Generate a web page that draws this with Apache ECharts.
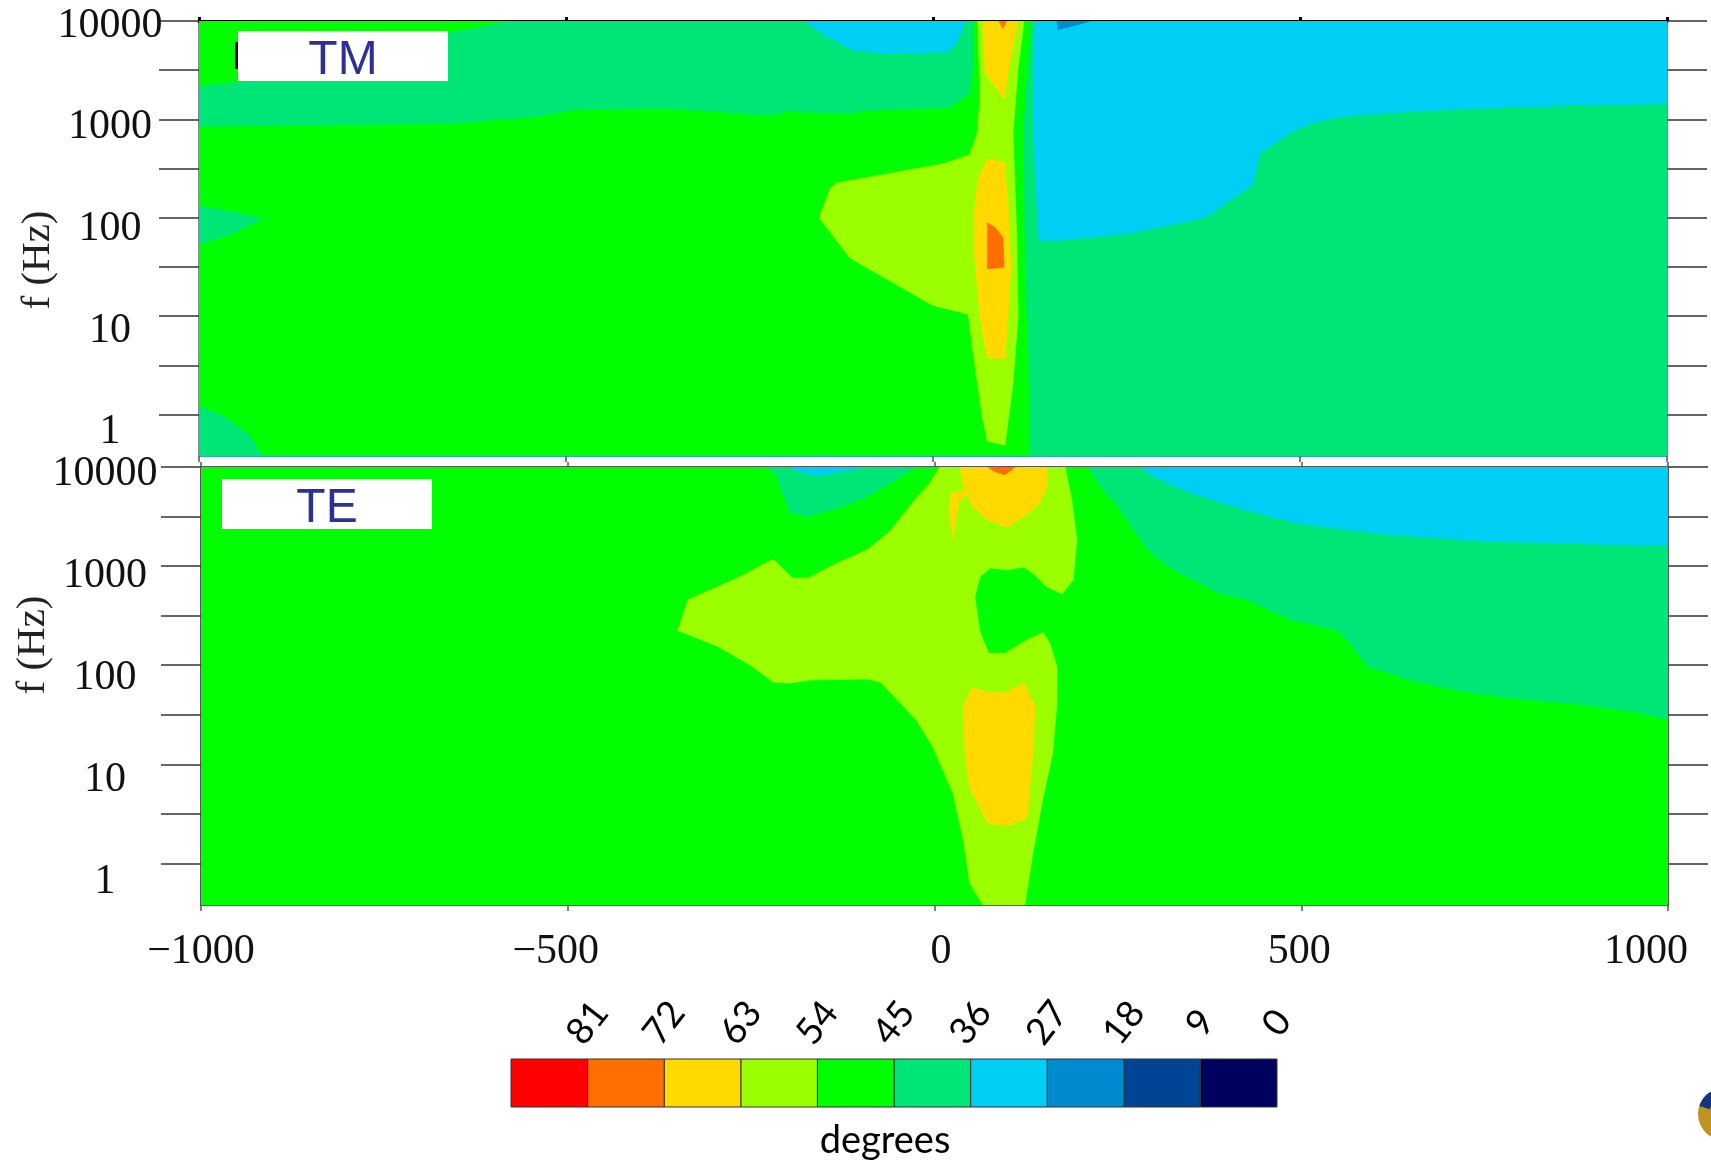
<!DOCTYPE html>
<html>
<head>
<meta charset="utf-8">
<script src="https://cdn.jsdelivr.net/npm/echarts@6/dist/echarts.min.js"></script>
<style>
  html, body { margin: 0; padding: 0; background: #fff; }
  #chart { width: 1711px; height: 1162px; }
</style>
</head>
<body>
<div id="chart"></div>
<script>
// Phase contour bands (degrees): band i covers [9*i, 9*i + 9)
const bandColors = ['#00005e', '#004496', '#008bd0', '#00cef5', '#00e676',
                    '#00ff00', '#9cff00', '#ffd900', '#ff6e00', '#ff0000'];
const levelLabels = [81, 72, 63, 54, 45, 36, 27, 18, 9, 0];

// Axis ticks: x = distance (m), y = log10 of frequency (Hz)
const xTickValues = [-1000, -500, 0, 500, 1000];
const xTickLabels = ['\u22121000', '\u2212500', '0', '500', '1000'];
const freqLabels = ['1', '10', '100', '1000', '10000'];
const decadeTicks = [0, 1, 2, 3, 4];
const halfDecadeTicks = [0, 0.5, 1, 1.5, 2, 2.5, 3, 3.5, 4];

// ---- TM mode: contour band outlines, vertices as [x (m), log10 f] ----
const tmBase = [[-1000, -0.42], [1000, -0.42], [1000, 4], [-1000, 4]];
const tmTealUpper = [[-1000, 3.34], [-917, 3.39], [-661, 3.875], [-572, 4], [54, 4], [54, 3.53], [50, 3.26],
  [37, 3.2], [23, 3.12], [-90, 3.09], [-113, 3.06], [-199, 3.08], [-222, 3.04], [-294, 3.08], [-362, 3.11],
  [-485, 3.10], [-545, 3.025], [-658, 2.96], [-854, 2.94], [-1000, 2.93]];
const tmCyanBlob = [[-177, 4], [-144, 3.84], [-109, 3.70], [-63, 3.67], [19, 3.685], [30, 3.75], [45, 4]];
const tmTealRight = [[134, 4], [123, 2.86], [126, 1.5], [132, 0.15], [132, -0.42], [1000, -0.42], [1000, 4]];
const tmCyanRight = [[139, 4], [136, 3.2], [139, 2.52], [144, 1.77], [173, 1.77], [272, 1.845], [364, 1.99],
  [377, 2.03], [436, 2.34], [445, 2.65], [486, 2.86], [516, 2.96], [550, 3.025], [613, 3.06], [704, 3.10],
  [864, 3.14], [1000, 3.16], [1000, 4]];
const tmBlueBlob = [[169, 4], [170, 3.91], [196, 3.96], [214, 4]];
const tmTealWedge = [[-1000, 2.12], [-948, 2.05], [-913, 1.99], [-948, 1.86], [-1000, 1.73]];
const tmTealCorner = [[-1000, 0.08], [-969, 0.0], [-932, -0.2], [-914, -0.42], [-1000, -0.42]];
const tmYellowGreen = [[61, 4], [64, 3.2], [60, 2.86], [50, 2.64], [14, 2.55], [-131, 2.355], [-140, 2.3],
  [-155, 2.0], [-113, 1.59], [0, 1.11], [48, 1.02], [54, 0.66], [67, -0.02], [74, -0.27], [98, -0.31],
  [109, 0.32], [116, 1.0], [114, 1.85], [109, 2.86], [116, 3.53], [124, 4]];
const tmYellowTop = [[68, 4], [71, 3.47], [97, 3.21], [105, 3.6], [116, 4]];
const tmYellowMid = [[74, 2.6], [97, 2.56], [102, 2.18], [106, 1.5], [102, 0.99], [98, 0.57], [74, 0.58],
  [64, 0.99], [56, 1.67], [56, 2.05], [61, 2.38]];
const tmOrangeTop = [[90, 4], [95, 3.92], [100, 4]];
const tmOrangeMid = [[74, 1.95], [85, 1.9], [95, 1.8], [97, 1.5], [87, 1.49], [74, 1.48]];

// ---- TE mode ----
const teBase = [[-1000, -0.42], [1000, -0.42], [1000, 4], [-1000, 4]];
const teTealUpper = [[-231, 4], [-217, 3.93], [-197, 3.54], [-172, 3.50], [-138, 3.57], [-115, 3.63],
  [-92, 3.70], [-57, 3.85], [-29, 3.98], [-24, 4]];
const teCyanBlob = [[-197, 4], [-183, 3.95], [-160, 3.91], [-129, 3.95], [-92, 4]];
const teTealRight = [[209, 4], [226, 3.80], [243, 3.67], [271, 3.37], [294, 3.14], [317, 3.0], [339, 2.91],
  [362, 2.83], [385, 2.73], [426, 2.66], [485, 2.46], [550, 2.35], [566, 2.22], [590, 1.99], [648, 1.85],
  [703, 1.76], [771, 1.68], [884, 1.60], [952, 1.53], [1000, 1.455], [1000, 4]];
const teCyanRight = [[280, 4], [294, 3.92], [348, 3.74], [421, 3.57], [489, 3.44], [566, 3.36], [635, 3.31],
  [748, 3.25], [862, 3.23], [925, 3.215], [1000, 3.205], [1000, 4]];
const teYellowGreen = [[-350, 2.35], [-336, 2.66], [-269, 2.88], [-220, 3.07], [-194, 2.88], [-172, 2.88],
  [-138, 3.01], [-92, 3.165], [-61, 3.35], [-29, 3.65], [-6, 3.84], [7, 4], [178, 4], [187, 3.67],
  [194, 3.27], [189, 2.86], [174, 2.72], [153, 2.79], [134, 2.93], [121, 2.99], [99, 2.96], [76, 2.98],
  [62, 2.89], [55, 2.69], [62, 2.33], [74, 2.12], [96, 2.12], [126, 2.255], [148, 2.33], [157, 2.225],
  [167, 1.98], [167, 1.62], [161, 1.11], [147, 0.63], [134, 0.10], [123, -0.42], [66, -0.42], [48, -0.2],
  [39, 0.24], [25, 0.71], [-2, 1.17], [-24, 1.44], [-47, 1.62], [-74, 1.83], [-92, 1.86], [-170, 1.85],
  [-197, 1.82], [-220, 1.83], [-251, 2.0], [-296, 2.19]];
const teYellowTop = [[35, 4], [39, 3.80], [52, 3.60], [72, 3.47], [99, 3.39], [126, 3.52], [144, 3.64],
  [153, 3.80], [153, 4]];
const teOrangeTop = [[73, 4], [80, 3.96], [96, 3.92], [110, 4]];
const teYellowSliver = [[23, 3.74], [49, 3.77], [33, 3.64], [25, 3.28], [20, 3.54]];
const teYellowLow = [[51, 1.77], [76, 1.72], [99, 1.73], [122, 1.82], [137, 1.58], [134, 1.08], [126, 0.455],
  [99, 0.38], [73, 0.40], [48, 0.76], [42, 1.08], [39, 1.58]];

// Painting order (later regions are drawn on top), with band index for the fill
const tmRegions = [
  { pts: tmBase, band: 5 }, { pts: tmTealUpper, band: 4 }, { pts: tmCyanBlob, band: 3 },
  { pts: tmTealRight, band: 4 }, { pts: tmCyanRight, band: 3 }, { pts: tmBlueBlob, band: 2 },
  { pts: tmTealWedge, band: 4 }, { pts: tmTealCorner, band: 4 }, { pts: tmYellowGreen, band: 6 },
  { pts: tmYellowTop, band: 7 }, { pts: tmYellowMid, band: 7 }, { pts: tmOrangeTop, band: 8 },
  { pts: tmOrangeMid, band: 8 }
];
const teRegions = [
  { pts: teBase, band: 5 }, { pts: teTealUpper, band: 4 }, { pts: teCyanBlob, band: 3 },
  { pts: teTealRight, band: 4 }, { pts: teCyanRight, band: 3 }, { pts: teYellowGreen, band: 6 },
  { pts: teYellowTop, band: 7 }, { pts: teYellowSliver, band: 7 }, { pts: teYellowLow, band: 7 },
  { pts: teOrangeTop, band: 8 }
];

function regionRenderer(regions) {
  return function (params, api) {
    const r = regions[params.dataIndex];
    const c = bandColors[r.band];
    return {
      type: 'polygon',
      shape: { points: r.pts.map(p => api.coord(p)) },
      style: { fill: c, stroke: c, lineWidth: 0.6 }
    };
  };
}

const serif = 'Liberation Serif';
const tickStyle = { color: '#333', width: 1.5 };

// per-label horizontal nudges of the distance labels (padding shifts the centred text)
const xLabelPads = [[0, 0, 0, 0], [0, 24, 0, 0], [0, 0, 0, 13], [0, 4, 0, 0], [0, 44, 0, 0]];
const xLabelRich = {};
xLabelPads.forEach((p, i) => {
  xLabelRich['l' + i] = { fontFamily: serif, fontSize: 42, color: '#111', padding: p };
});

function tickAxis(gridIndex, position, lineColor) {
  return {
    gridIndex, type: 'value', min: -0.42, max: 4, position,
    axisLine: { show: true, onZero: false, lineStyle: { color: lineColor, width: 1.5 } },
    axisTick: { show: true, inside: false, length: 40, customValues: halfDecadeTicks, lineStyle: tickStyle },
    axisLabel: { show: false }, splitLine: { show: false }
  };
}
function labelAxis(gridIndex, min, max, margin) {
  return {
    gridIndex, type: 'value', min, max, position: 'left',
    axisLine: { show: false }, axisTick: { show: false }, splitLine: { show: false },
    axisLabel: {
      show: true, customValues: decadeTicks, formatter: v => freqLabels[Math.round(v)],
      align: 'center', verticalAlign: 'middle', margin,
      fontFamily: serif, fontSize: 42, color: '#111'
    }
  };
}
function plainX(gridIndex, position, line, tick) {
  return {
    gridIndex, type: 'value', min: -1000, max: 1000, interval: 500, position,
    axisLine: line, axisTick: tick, axisLabel: { show: false }, splitLine: { show: false }
  };
}

const option = {
  backgroundColor: '#fff',
  animation: false,
  grid: [
    { left: 199, top: 21, width: 1468, height: 435, outerBoundsMode: 'none' },
    { left: 201, top: 467, width: 1467, height: 438, outerBoundsMode: 'none' },
    { left: 511, top: 1059, width: 766, height: 48, outerBoundsMode: 'none' }
  ],
  xAxis: [
    plainX(0, 'bottom', { show: true, onZero: false, lineStyle: { color: '#19b5c0', width: 1 } },
      { show: true, length: 6, lineStyle: { color: '#555', width: 1.5 } }),
    plainX(0, 'top', { show: true, onZero: false, lineStyle: { color: '#000', width: 3 } },
      { show: true, length: 4, lineStyle: { color: '#000', width: 3 } }),
    {
      gridIndex: 1, type: 'value', min: -1000, max: 1000, interval: 500, position: 'bottom',
      axisLine: { show: true, onZero: false, lineStyle: { color: '#222', width: 1.5 } },
      axisTick: { show: true, length: 6, lineStyle: { color: '#555', width: 1.5 } },
      axisLabel: {
        show: true, margin: 26, fontFamily: serif, fontSize: 42, color: '#111',
        formatter: v => {
          const i = xTickValues.indexOf(v);
          return '{l' + i + '|' + xTickLabels[i] + '}';
        },
        rich: xLabelRich
      },
      splitLine: { show: false }
    },
    plainX(1, 'top', { show: true, onZero: false, lineStyle: { color: '#222', width: 1.5 } },
      { show: true, length: 5, lineStyle: { color: '#555', width: 1.5 } }),
    {
      gridIndex: 2, type: 'value', min: 0, max: 90, inverse: true, position: 'top',
      axisLine: { show: false }, axisTick: { show: false }, splitLine: { show: false },
      axisLabel: {
        show: true, customValues: levelLabels, rotate: 52, align: 'center', verticalAlign: 'middle',
        margin: 36, fontFamily: 'Lato', fontSize: 37, color: '#000'
      }
    },
    {
      gridIndex: 2, type: 'value', min: 0, max: 90, position: 'bottom',
      name: 'degrees', nameLocation: 'middle', nameGap: 15,
      nameTextStyle: { fontFamily: 'Lato', fontSize: 38, color: '#000', padding: [0, 18, 0, 0] },
      axisLine: { show: false }, axisTick: { show: false }, axisLabel: { show: false }, splitLine: { show: false }
    }
  ],
  yAxis: [
    tickAxis(0, 'left', '#4a6878'),
    tickAxis(0, 'right', '#4a6878'),
    labelAxis(0, -0.2352, 4.0463, 89),
    tickAxis(1, 'left', '#222'),
    tickAxis(1, 'right', '#222'),
    labelAxis(1, -0.2257, 4.0726, 96),
    { gridIndex: 2, type: 'value', min: 0, max: 1, show: false }
  ],
  series: [
    {
      type: 'custom', name: 'TM', coordinateSystem: 'cartesian2d', xAxisIndex: 0, yAxisIndex: 0,
      clip: true, silent: true, renderItem: regionRenderer(tmRegions),
      data: tmRegions.map(() => [0, 1])
    },
    {
      type: 'custom', name: 'TE', coordinateSystem: 'cartesian2d', xAxisIndex: 2, yAxisIndex: 3,
      clip: true, silent: true, renderItem: regionRenderer(teRegions),
      data: teRegions.map(() => [0, 1])
    },
    {
      type: 'custom', name: 'scale', coordinateSystem: 'cartesian2d', xAxisIndex: 4, yAxisIndex: 6,
      silent: true,
      renderItem: function (params, api) {
        const b = params.dataIndex;
        const p1 = api.coord([b * 9, 0]);
        const p2 = api.coord([b * 9 + 9, 1]);
        return {
          type: 'rect',
          shape: { x: Math.min(p1[0], p2[0]), y: Math.min(p1[1], p2[1]),
                   width: Math.abs(p2[0] - p1[0]), height: Math.abs(p2[1] - p1[1]) },
          style: { fill: bandColors[b], stroke: '#333', lineWidth: 1 }
        };
      },
      data: bandColors.map((c, i) => [i * 9, 0.5])
    }
  ],
  graphic: [
    { type: 'rect', shape: { x: 235, y: 42, width: 3, height: 27 }, style: { fill: '#000' }, z: 100 },
    { type: 'rect', shape: { x: 238, y: 31, width: 210, height: 50 }, style: { fill: '#fff' }, z: 100 },
    { type: 'text', x: 343, y: 61, z: 101,
      style: { text: 'TM', fontFamily: 'Liberation Sans', fontSize: 48, fill: '#2e3192', align: 'center', verticalAlign: 'middle' } },
    { type: 'rect', shape: { x: 222, y: 479, width: 210, height: 50 }, style: { fill: '#fff' }, z: 100 },
    { type: 'text', x: 327, y: 509, z: 101,
      style: { text: 'TE', fontFamily: 'Liberation Sans', fontSize: 48, fill: '#2e3192', align: 'center', verticalAlign: 'middle' } },
    { type: 'text', x: 38, y: 260, rotation: Math.PI / 2, z: 101,
      style: { text: 'f (Hz)', fontFamily: serif, fontSize: 41, fill: '#222', align: 'center', verticalAlign: 'middle' } },
    { type: 'text', x: 33, y: 645, rotation: Math.PI / 2, z: 101,
      style: { text: 'f (Hz)', fontFamily: serif, fontSize: 41, fill: '#222', align: 'center', verticalAlign: 'middle' } },
    { type: 'circle', shape: { cx: 1724, cy: 1114, r: 26 }, style: { fill: '#bf9322' }, z: 100 },
    { type: 'sector', shape: { cx: 1724, cy: 1114, r: 26, r0: 15, startAngle: Math.PI * 1.1, endAngle: Math.PI * 1.4 },
      style: { fill: '#13357d' }, z: 101 }
  ]
};

const chart = echarts.init(document.getElementById('chart'), null, { renderer: 'canvas' });
chart.setOption(option);
</script>
</body>
</html>
